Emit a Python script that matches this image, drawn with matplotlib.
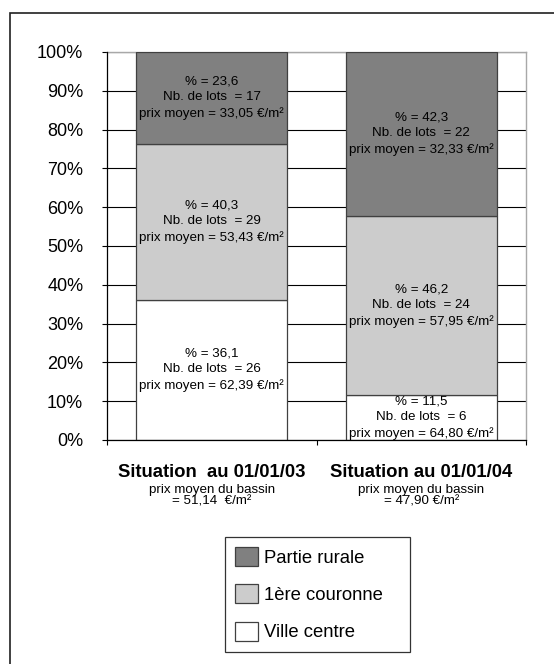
import matplotlib
matplotlib.use('Agg')
import matplotlib.pyplot as plt
import matplotlib.transforms as mtransforms
from matplotlib.patches import Patch, Rectangle

plt.rcParams['font.family'] = ['Liberation Sans', 'DejaVu Sans']

# donnees
situations = ['Situation  au 01/01/03', 'Situation au 01/01/04']
prix_bassin = ['= 51,14  €/m²', '= 47,90 €/m²']
zones = ['Ville centre', '1ère couronne', 'Partie rurale']
pct = {
    'Ville centre': [36.1, 11.5],
    '1ère couronne': [40.3, 46.2],
    'Partie rurale': [23.6, 42.3],
}
nb_lots = {
    'Ville centre': [26, 6],
    '1ère couronne': [29, 24],
    'Partie rurale': [17, 22],
}
prix_moyen = {
    'Ville centre': ['62,39', '64,80'],
    '1ère couronne': ['53,43', '57,95'],
    'Partie rurale': ['33,05', '32,33'],
}
couleurs = {'Ville centre': '#ffffff', '1ère couronne': '#cccccc',
            'Partie rurale': '#808080'}

fig = plt.figure(figsize=(5.54, 6.64), dpi=100)
ax = fig.add_axes([107/554, 1-440/664, 419/554, 388/664])

x = list(range(len(situations)))
bottom = [0.0]*len(x)
for z in zones:
    vals = [v/100 for v in pct[z]]
    ax.bar(x, vals, width=0.72, bottom=bottom, color=couleurs[z],
           edgecolor='#404040', linewidth=0.9, zorder=3)
    for i in x:
        txt = (f"% = {pct[z][i]:.1f}".replace('.', ',') +
               f"\nNb. de lots  = {nb_lots[z][i]}" +
               f"\nprix moyen = {prix_moyen[z][i]} €/m²")
        ax.text(i, bottom[i] + vals[i]/2, txt, ha='center', va='center',
                fontsize=9.6, linespacing=1.4, zorder=4)
    bottom = [b + v for b, v in zip(bottom, vals)]

ax.set_xlim(-0.5, 1.5)
ax.set_ylim(0, 1)
ax.set_yticks([i/10 for i in range(11)])
ax.set_yticklabels([f"{i*10}%" for i in range(11)], fontsize=13)
ax.set_xticks([-0.5, 0.5, 1.5])
ax.set_xticklabels([])
ax.tick_params(axis='both', direction='out', length=3.6, width=0.8,
               color='black')
ax.tick_params(axis='y', pad=13.5)
ax.yaxis.grid(True, color='black', linewidth=0.8, zorder=0)
ax.set_axisbelow(True)
for s in ['left', 'bottom']:
    ax.spines[s].set_color('black')
    ax.spines[s].set_linewidth(0.9)
    ax.spines[s].set_zorder(5)
for s in ['top', 'right']:
    ax.spines[s].set_color('#a8a8a8')
    ax.spines[s].set_linewidth(1.0)

# libelles des categories : titre en gras puis prix moyen du bassin
trans = mtransforms.blended_transform_factory(ax.transData, ax.transAxes)
decal = lambda px: trans + mtransforms.ScaledTranslation(0, -px/100, fig.dpi_scale_trans)
for i in x:
    ax.text(i, -0.095, situations[i], transform=trans, ha='center',
            va='baseline', fontsize=13.3, fontweight='bold')
    ax.text(i, -0.095, 'prix moyen du bassin', transform=decal(16),
            ha='center', va='baseline', fontsize=9.6)
    ax.text(i, -0.095, prix_bassin[i], transform=decal(28),
            ha='center', va='baseline', fontsize=9.6)

# legende
handles = [Patch(facecolor=couleurs[z], edgecolor='#404040', linewidth=0.9)
           for z in zones[::-1]]
leg = fig.legend(handles, zones[::-1], loc='upper left',
                 bbox_to_anchor=(225/554, 1-537/664, 185/554, 0.0),
                 mode='expand', fontsize=13.3, frameon=True, fancybox=False,
                 edgecolor='black', borderpad=0.55, handlelength=1.25,
                 handleheight=1.2, handletextpad=0.3, labelspacing=0.95,
                 borderaxespad=0.0)
leg.get_frame().set_linewidth(0.9)

# cadre du graphique
fig.patches.append(Rectangle((10/554, -0.05), 1.0, 1-13/664+0.05,
                             transform=fig.transFigure, fill=False,
                             edgecolor='#202020', linewidth=1.2))

fig.savefig('out.png', dpi=100)
